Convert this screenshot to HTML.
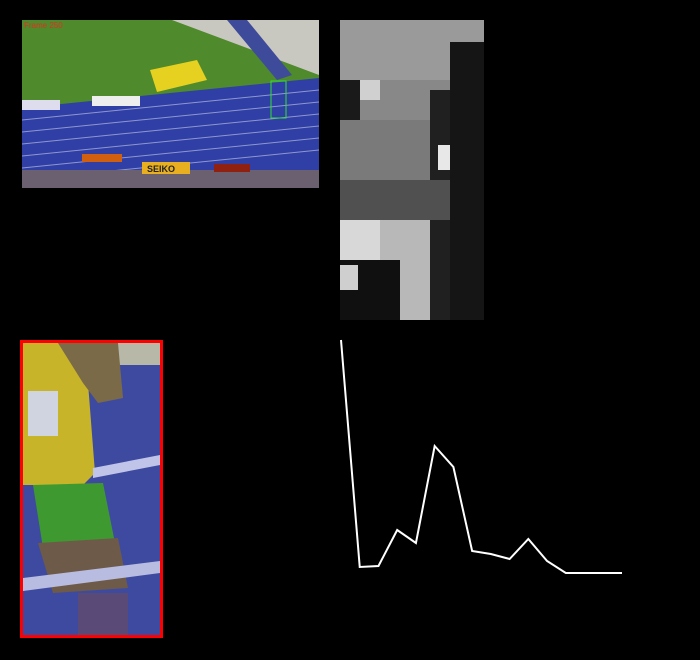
<!DOCTYPE html>
<html><head><meta charset="utf-8"><style>
html,body{margin:0;padding:0;background:#000;width:700px;height:660px;overflow:hidden;font-family:"Liberation Sans",sans-serif}
.abs{position:absolute}
</style></head><body>
<div class="abs" style="left:22px;top:20px;width:297px;height:168px;overflow:hidden;background:#2a3a9a">
<svg width="297" height="168">
<polygon points="0,0 210,0 297,55 297,60 0,88" fill="#4f8a2c"/>
<polygon points="150,0 297,0 297,55" fill="#c8c8c0"/>
<polygon points="205,0 225,0 270,55 255,60" fill="#3e4a9a"/>
<polygon points="0,88 297,58 297,168 0,168" fill="#2f3fa5"/>
<g stroke="#b8bce0" stroke-width="1" opacity="0.7">
<line x1="0" y1="100" x2="297" y2="70"/><line x1="0" y1="112" x2="297" y2="82"/>
<line x1="0" y1="124" x2="297" y2="94"/><line x1="0" y1="136" x2="297" y2="106"/>
<line x1="0" y1="148" x2="297" y2="118"/><line x1="0" y1="160" x2="297" y2="130"/>
</g>
<polygon points="128,50 175,40 185,60 135,72" fill="#e6d020"/>
<rect x="0" y="80" width="38" height="10" fill="#dde"/>
<rect x="70" y="76" width="48" height="10" fill="#eee"/>
<rect x="0" y="150" width="297" height="18" fill="#6a6070"/>
<rect x="120" y="142" width="48" height="12" fill="#e8b020"/>
<rect x="60" y="134" width="40" height="8" fill="#d06010"/>
<rect x="192" y="144" width="36" height="8" fill="#902010"/>
<rect x="249" y="61" width="15" height="37" fill="none" stroke="#30e030" stroke-width="1"/>
<text x="2" y="8" font-size="8" fill="#e03020" font-family="Liberation Sans">Frame 250</text>
<text x="125" y="152" font-size="9" font-weight="bold" fill="#222" font-family="Liberation Sans">SEIKO</text>
</svg></div>
<div class="abs" style="left:340px;top:20px;width:144px;height:300px;overflow:hidden;background:#888">
<svg width="144" height="300">
<rect x="0" y="0" width="144" height="60" fill="#9a9a9a"/>
<rect x="110" y="22" width="34" height="278" fill="#151515"/>
<rect x="0" y="60" width="20" height="40" fill="#1a1a1a"/>
<rect x="20" y="60" width="20" height="20" fill="#d0d0d0"/>
<rect x="90" y="70" width="20" height="230" fill="#202020"/>
<rect x="98" y="125" width="12" height="25" fill="#e8e8e8"/>
<rect x="0" y="100" width="90" height="60" fill="#7a7a7a"/>
<rect x="0" y="160" width="110" height="40" fill="#505050"/>
<rect x="0" y="200" width="40" height="40" fill="#d8d8d8"/>
<rect x="40" y="200" width="50" height="100" fill="#b8b8b8"/>
<rect x="0" y="240" width="60" height="60" fill="#101010"/>
<rect x="0" y="245" width="18" height="25" fill="#cfcfcf"/>
</svg></div>
<div class="abs" style="left:20px;top:340px;width:137px;height:292px;border:3px solid #f00;overflow:hidden;background:#3a48a0">
<svg width="137" height="292">
<rect x="0" y="0" width="137" height="292" fill="#3e4aa0"/>
<rect x="90" y="0" width="47" height="22" fill="#b8b8a8"/>
<polygon points="0,0 40,0 65,40 72,130 60,142 0,142" fill="#c8b428"/>
<polygon points="35,0 95,0 100,55 75,60 60,40" fill="#7a6a48"/>
<rect x="5" y="48" width="30" height="45" fill="#d0d4e0"/>
<polygon points="70,125 137,112 137,122 70,135" fill="#c0c4e8"/>
<polygon points="10,142 80,140 92,200 20,205" fill="#3e9a30"/>
<polygon points="15,200 95,195 105,245 30,250" fill="#6e5a48"/>
<polygon points="0,235 137,218 137,230 0,248" fill="#b8bce0"/>
<rect x="55" y="250" width="50" height="42" fill="#5a4a78"/>
</svg></div>
<svg class="abs" style="left:0;top:0" width="700" height="660" id="chart"></svg>
<script>
const indices=[0,1,2,3,4,5,6,7,8,9,10,11,12,13,14,15];
const values=[233,6,7,43,30,127,106,22,19,14,34,12,0,0,0,0];
const xs=i=>341+i*(281/15);
const ys=v=>573-v;
const svg=document.getElementById('chart');
const pl=document.createElementNS('http://www.w3.org/2000/svg','polyline');
pl.setAttribute('points',indices.map((d,i)=>xs(d)+','+ys(values[i])).join(' '));
pl.setAttribute('fill','none');pl.setAttribute('stroke','#fff');pl.setAttribute('stroke-width','2');


svg.appendChild(pl);
</script>
</body></html>
